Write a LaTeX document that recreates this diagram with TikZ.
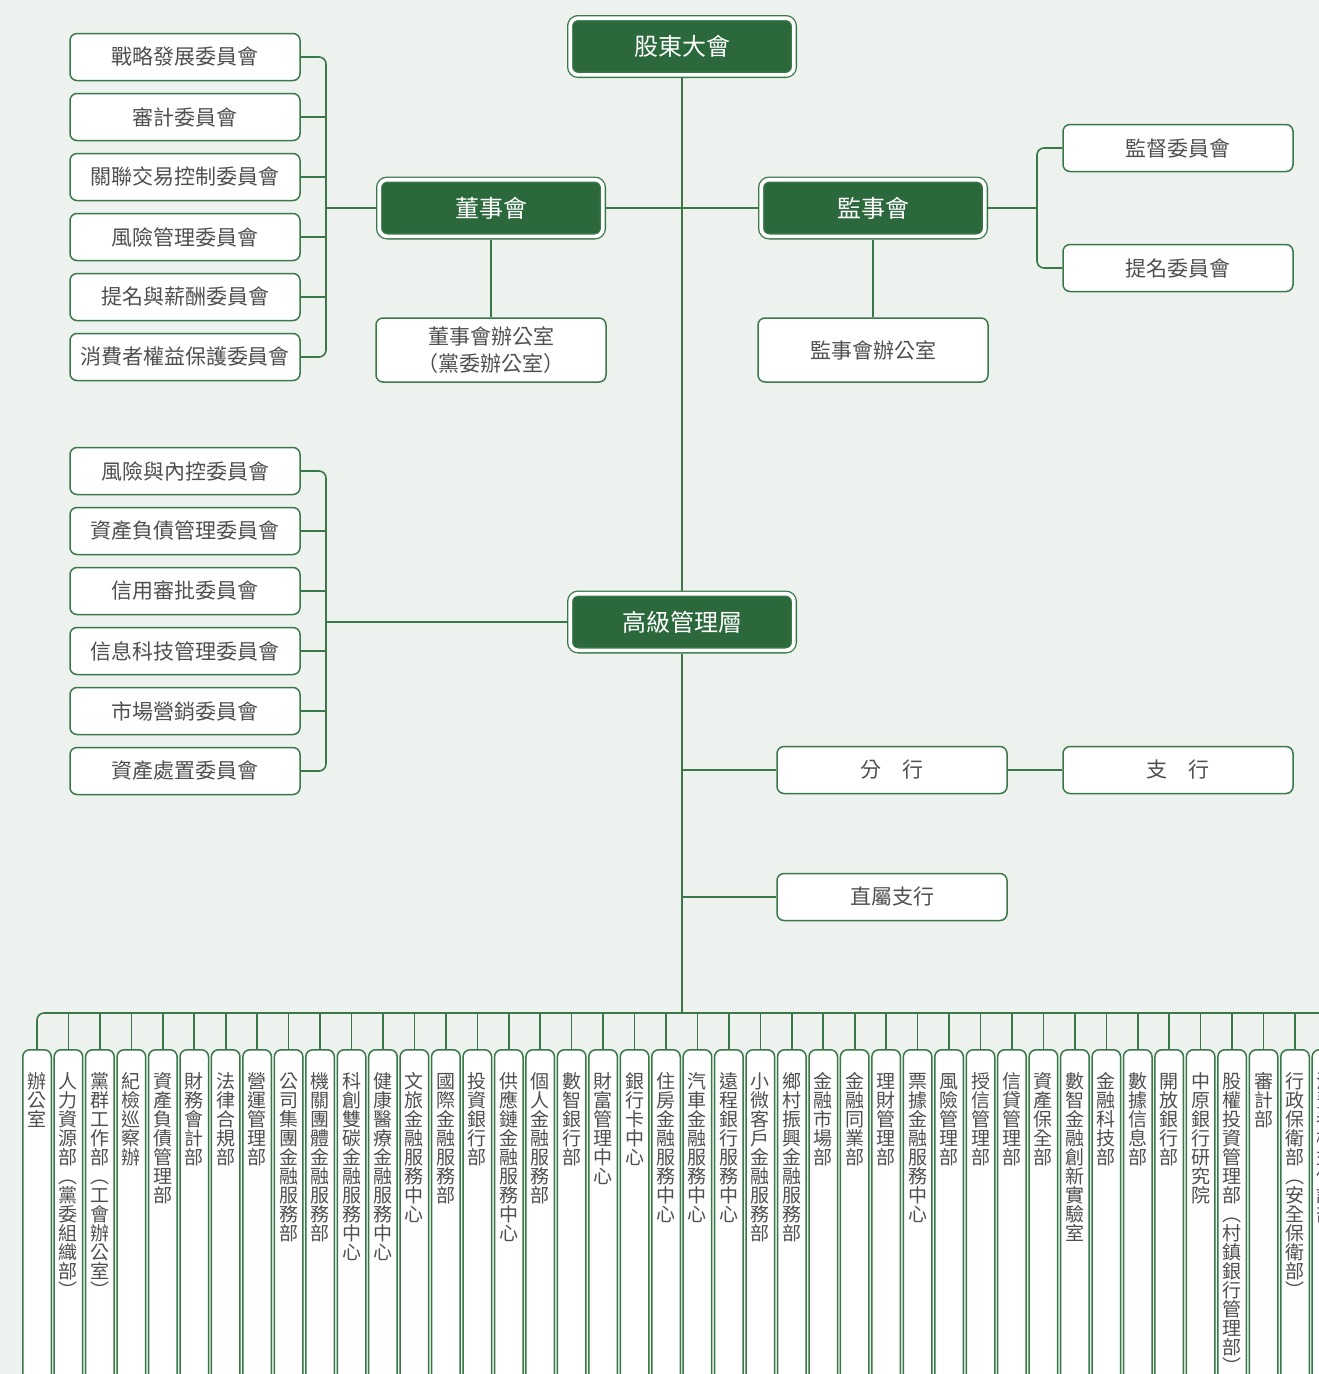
\documentclass[tikz,border=0pt]{standalone}
\usepackage{fontspec}
\setmainfont{Noto Sans CJK TC}
\usepackage{tikz}
\usetikzlibrary{positioning, calc}
\definecolor{bgGray}{HTML}{EDF2EE}
\definecolor{lineGreen}{HTML}{3A7848}
\definecolor{darkGreen}{HTML}{2B683B}
\definecolor{textGray}{HTML}{4F4F4F}
% texto vertical: un carácter por renglón
\makeatletter
\newcommand\vstack[1]{\vbox to 330pt{\hsize=28pt\offinterlineskip
  \@tfor\vch:=#1\do{\hbox to 28pt{\hss\vrule height 16.5pt depth 2.5pt width 0pt\vch\hss}}\vss}}
\makeatother

\begin{document}
\begin{tikzpicture}[
  x=1pt, y=-1pt,
  conn/.style={draw=lineGreen, line width=1.6pt},
  headbox/.style={draw=lineGreen, double=white, double distance=3.7pt, line width=1.3pt,
    fill=darkGreen, rounded corners=8pt, minimum width=223.7pt, minimum height=56.7pt,
    inner sep=0pt, outer sep=3.15pt, text=white, font=\fontsize{24}{28}\selectfont},
  unitbox/.style={draw=lineGreen, line width=1.5pt, fill=white, rounded corners=7pt,
    minimum width=230pt, minimum height=47pt, inner sep=0pt, align=center,
    text=textGray, font=\fontsize{21}{27}\selectfont},
  deptbox/.style={draw=lineGreen, line width=1.5pt, fill=white, rounded corners=7pt,
    minimum width=28.5pt, minimum height=374pt, inner sep=0pt, anchor=north,
    text=textGray, font=\fontsize{19}{19}\selectfont}
]
  % Fondo y recorte
  \path[use as bounding box, fill=bgGray] (0,0) rectangle (1319,1374);
  \clip (0,0) rectangle (1319,1374);

  % --- Órganos principales ---
  \node[headbox] (gm)     at (682, 46.5) {股東大會};
  \node[headbox] (board)  at (491, 208)  {董事會};
  \node[headbox] (sup)    at (873, 208)  {監事會};
  \node[headbox] (mgmt)   at (682, 622)  {高級管理層};

  \node[unitbox, minimum height=64pt] (boardoff) at (491, 350) {董事會辦公室\\（黨委辦公室）};
  \node[unitbox, minimum height=64pt] (supoff)   at (873, 350) {監事會辦公室};
  \node[unitbox] (sv1) at (1178, 148) {監督委員會};
  \node[unitbox] (sv2) at (1178, 268) {提名委員會};

  % --- Comités del consejo y de la dirección ---
  \foreach \txt [count=\k] in {戰略發展委員會, 審計委員會, 關聯交易控制委員會,
      風險管理委員會, 提名與薪酬委員會, 消費者權益保護委員會}
    \node[unitbox] (c\k) at (185, {57+60*(\k-1)}) {\txt};
  \foreach \txt [count=\k] in {風險與內控委員會, 資產負債管理委員會, 信用審批委員會,
      信息科技管理委員會, 市場營銷委員會, 資產處置委員會}
    \node[unitbox] (m\k) at (185, {471+60*(\k-1)}) {\txt};

  \node[unitbox] (branch) at (892, 770)  {分\quad 行};
  \node[unitbox] (sub)    at (1178, 770) {支\quad 行};
  \node[unitbox] (direct) at (892, 897)  {直屬支行};

  % --- Departamentos (texto vertical) ---
  \foreach \txt [count=\k] in {辦公室, 人力資源部︵黨委組織部︶, 黨群工作部︵工會辦公室︶,
      紀檢巡察辦, 資產負債管理部, 財務會計部, 法律合規部, 營運管理部,
      公司集團金融服務部, 機關團體金融服務部, 科創雙碳金融服務中心,
      健康醫療金融服務中心, 文旅金融服務中心, 國際金融服務部, 投資銀行部,
      供應鏈金融服務中心, 個人金融服務部, 數智銀行部, 財富管理中心, 銀行卡中心,
      住房金融服務中心, 汽車金融服務中心, 遠程銀行服務中心, 小微客戶金融服務部,
      鄉村振興金融服務部, 金融市場部, 金融同業部, 理財管理部, 票據金融服務中心,
      風險管理部, 授信管理部, 信貸管理部, 資產保全部, 數智金融創新實驗室,
      金融科技部, 數據信息部, 開放銀行部, 中原銀行研究院,
      股權投資管理部︵村鎮銀行管理部︶, 審計部, 行政保衛部︵安全保衛部︶,
      消費者權益保護部}
    \node[deptbox] (d\k) at ({37+31.45*(\k-1)}, 1049) {\expandafter\vstack\expandafter{\txt}};

  % --- Conectores ---
  \coordinate (cbus) at (326, 208);
  \coordinate (mbus) at (326, 622);
  \coordinate (sbus) at (1037, 208);
  \coordinate (hub)  at (682, 1013);

  \draw[conn] (gm.south) -- (mgmt.north);
  \draw[conn] (mgmt.south) -- (hub);
  \draw[conn] (board.east) -- (sup.west);
  \draw[conn] (board.south) -- (boardoff.north);
  \draw[conn] (sup.south) -- (supoff.north);

  \draw[conn] (sup.east) -- (sbus);
  \draw[conn, rounded corners=7pt] (sv1.west) -| (sbus) |- (sv2.west);

  \draw[conn] (cbus) -- (board.west);
  \draw[conn, rounded corners=7pt] (c1.east) -| (cbus) |- (c6.east);
  \draw[conn] (mbus) -- (mgmt.west);
  \draw[conn, rounded corners=7pt] (m1.east) -| (mbus) |- (m6.east);
  \foreach \k in {2,...,5} {
    \draw[conn] (c\k.east) -- (c\k.east -| cbus);
    \draw[conn] (m\k.east) -- (m\k.east -| mbus);
  }

  \draw[conn] (branch.west -| hub) -- (branch.west);
  \draw[conn] (branch.east) -- (sub.west);
  \draw[conn] (direct.west -| hub) -- (direct.west);

  \draw[conn, rounded corners=7pt] (d1.north) |- (hub) -| (d42.north);
  \foreach \k in {2,...,41}
    \draw[conn] (d\k.north) -- (d\k.north |- hub);

\end{tikzpicture}
\end{document}
